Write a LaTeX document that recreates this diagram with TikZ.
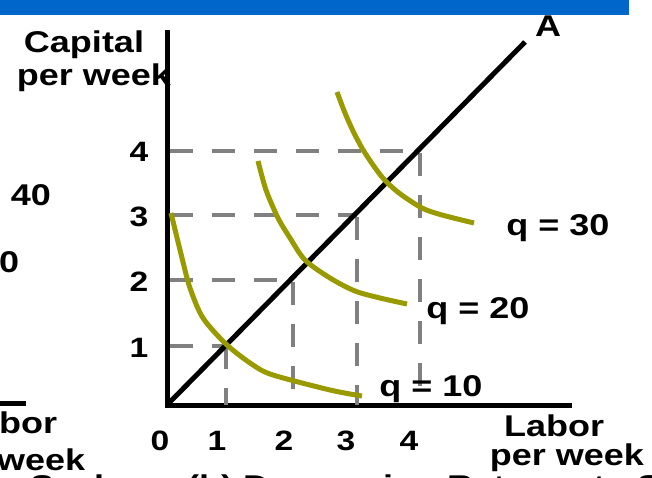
\documentclass[tikz,border=0pt]{standalone}
\usepackage{fontspec}
\setmainfont{Liberation Sans}[FakeStretch=1.2]
\definecolor{barblue}{RGB}{0,102,204}
\definecolor{olive}{RGB}{153,153,0}
\definecolor{dashgray}{RGB}{128,128,128}
\begin{document}
\begin{tikzpicture}[x=1pt,y=-1pt,
  lab/.style={inner sep=0pt,anchor=base,font=\fontsize{30}{30}\selectfont\bfseries},
  tick/.style={inner sep=0pt,anchor=base,font=\fontsize{28}{28}\selectfont\bfseries},
  axisline/.style={line width=5pt,black},
  ray/.style={line width=5pt,black},
  iso/.style={line width=5pt,olive,line cap=butt},
  guide/.style={line width=4.5pt,dashgray,dash pattern=on 23pt off 19pt}]
\useasboundingbox (0,0) rectangle (652,478);
\fill[barblue] (0,0) rectangle (629,15);
% axes
\coordinate (ytop) at (167,30);
\coordinate (O) at (167,405);
\coordinate (xend) at (572,405);
\coordinate (Aend) at (525,42);
\draw[axisline] (167,30) -- (167,407);
\draw[axisline] (165,405) -- (xend);
\draw[axisline] (0,403) -- (26,403);
% dashed guides
\draw[guide] (170,151) -- (420,151);
\draw[guide] (420,153) -- (420,405);
\draw[guide] (170,215) -- (357,215);
\draw[guide] (357,217) -- (357,405);
\draw[guide] (170,280) -- (293,280);
\draw[guide] (293,282) -- (293,405);
\draw[guide] (170,346) -- (226,346);
\draw[guide] (226,346) -- (226,405);
% ray
\draw[ray] (O) -- (Aend);
% isoquants
\draw[iso] plot[smooth,tension=0.5] coordinates {(171,213) (182,258) (190,288) (203,318) (227,345) (253,365) (273,375) (330,390) (362,396)};
\draw[iso] plot[smooth,tension=0.5] coordinates {(258,161) (266,190) (278,218) (290,238) (305,260) (330,278) (355,291) (380,298) (407,304)};
\draw[iso] plot[smooth,tension=0.5] coordinates {(337,92) (345,113) (354,133) (365,153) (382,177) (399,193) (422,208) (442,215) (474,223)};
% labels
\node[lab] (cap1) at (84,53) {Capital};
\node[lab] (cap2) at (94,86) {per week};
\node[lab] (A) at (548,37) {A};
\node[tick] (y4) at (139,162) {4};
\node[tick] (y3) at (139,226) {3};
\node[tick] (y2) at (139,291) {2};
\node[tick] (y1) at (139,357) {1};
\node[tick] (x0) at (160,450) {0};
\node[tick] (x1) at (217,450) {1};
\node[tick] (x2) at (284,450) {2};
\node[tick] (x3) at (346,450) {3};
\node[tick] (x4) at (409,450) {4};
\node[lab] (q30) at (558,235) {q = 30};
\node[lab] (q20) at (478,318) {q = 20};
\node[lab] (q10) at (431,396) {q = 10};
\node[lab] (lab1) at (554,436) {Labor};
\node[lab] (lab2) at (567,465) {per week};
\node[lab] (l40) at (31,205) {40};
\node[lab,anchor=base west] (l0) at (-1,272) {0};
\node[lab,anchor=base west] (lbor) at (-1,433) {bor};
\node[lab,anchor=base west] (lweek) at (-3,470) {week};
\begin{scope}
\clip (0,0) rectangle (652,478);
\node[lab,anchor=base west] (capa) at (30,496) {Scale};
\node[lab,anchor=base west] (capb) at (187,496) {(b) Decreasing Returns to Scale};
\end{scope}
\end{tikzpicture}
\end{document}
